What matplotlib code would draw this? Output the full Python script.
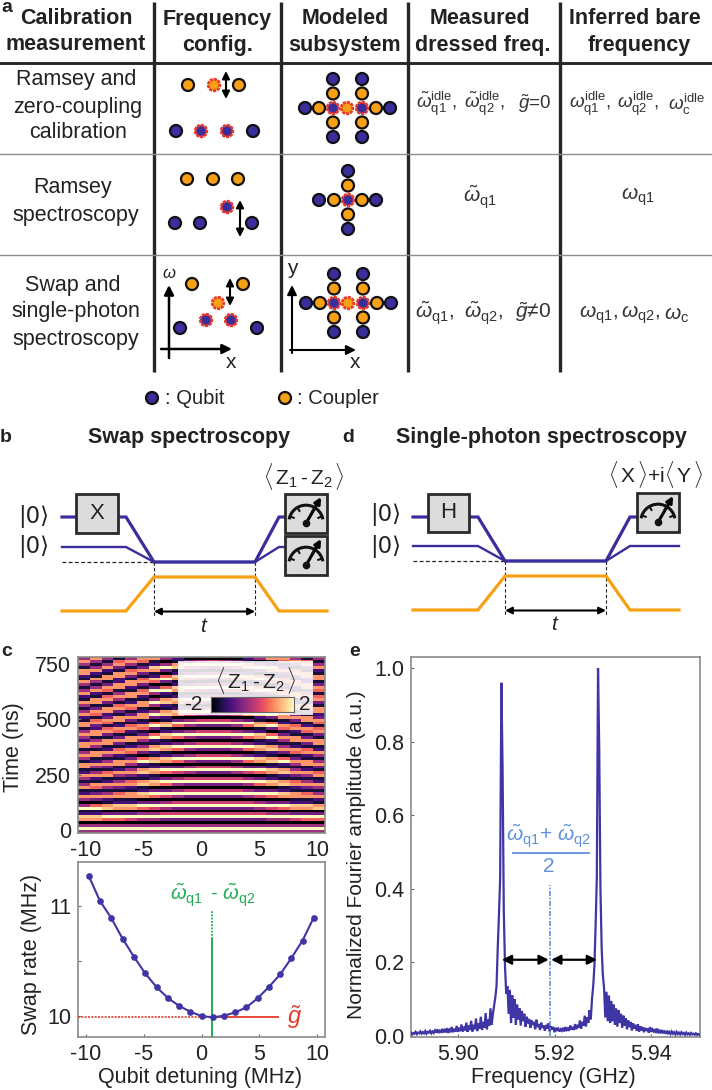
import numpy as np
import matplotlib
matplotlib.use("Agg")
import matplotlib.pyplot as plt
from matplotlib.patches import Circle, Rectangle, Arc

plt.rcParams['font.family'] = ['Liberation Sans', 'DejaVu Sans']
plt.rcParams['mathtext.fontset'] = 'custom'
plt.rcParams['mathtext.rm'] = 'Liberation Sans'
plt.rcParams['mathtext.it'] = 'Liberation Sans:italic'
plt.rcParams['mathtext.bf'] = 'Liberation Sans:bold'
plt.rcParams['axes.unicode_minus'] = False

W, H = 712, 1090
QUBIT, COUPLER, RED = '#3a2d9c', '#f5a015', '#e63a2a'
DARK = '#222222'
TRACE = '#3f35a5'
SKY = '#5f92dc'
GREEN = '#1fae55'
FRAME = '#8a8a8a'

# ---------- data ----------
# Panel c, top: colour level (0 = black ... 9 = cream) per detuning column, time rising.
# Coarse estimates of the stripe pattern by eye, not an exact cell-by-cell copy.
heat_detuning = list(range(-10, 11))
heat_levels = [
    "4940 7821 9404 7217 4147 2177 1474 1772 4741 7712 7414 7127 4147 1277 1474",
    "4940 7821 9603 7316 7127 4147 2177 1474 1772 3761 6731 7712 7414 7127 4147",
    "4940 6930 8712 7414 7217 6137 4147 2177 1376 1673 2771 3761 6731 7712 7414",
    "4940 6930 7821 7613 7414 7217 7127 6137 3167 2177 1376 1474 1772 2771 3761",
    "4940 5930 7821 7712 7613 7414 7316 7217 7127 6137 3167 2177 1277 1376 1474",
    "4940 4940 6930 7821 8712 8712 9603 7414 7316 7217 7217 7127 6137 6137 3167",
    "4940 4940 5930 6930 7821 7821 8712 8712 9603 9603 9404 9404 9306 8217 8217",
    "4940 3950 4940 5930 6930 6930 7821 7821 7821 8712 8712 8712 9603 9603 9404",
    "4940 3950 3950 4940 4940 5930 6930 6930 6930 6930 7821 7821 7821 7821 8712",
    "4940 3950 3950 3950 3950 4940 4940 4940 4940 4940 5930 5930 5930 5930 5930",
    "4940 3950 3950 3950 3950 3950 3950 3950 3950 3950 4940 4940 4940 4940 4940",
    "4940 3950 3950 3950 3950 3950 3950 3950 3950 3950 3950 3950 3950 3950 3950",
    "4940 3950 3950 3950 3950 3950 3950 3950 3950 3950 4940 4940 4940 4940 4940",
    "4940 3950 3950 3950 3950 4940 4940 4940 4940 4940 5930 5930 5930 5930 5930",
    "4940 3950 3950 4940 4940 5930 6930 6930 6930 6930 7821 7821 7821 7821 8712",
    "4940 3950 4940 5930 6930 6930 7821 7821 7821 8712 8712 8712 9603 9603 9404",
    "4940 4940 5930 6930 7821 7821 8712 8712 9603 9603 9404 9404 9306 8217 8217",
    "4940 4940 6930 7821 8712 8712 9603 7414 7316 7217 7217 7127 6137 6137 3167",
    "4940 5930 7821 7712 7613 7414 7316 7217 7127 6137 3167 2177 1277 1376 1474",
    "4940 6930 7821 7613 7414 7217 7127 6137 3167 2177 1376 1474 1772 2771 3761",
    "4940 6930 8712 7414 7217 6137 4147 2177 1376 1673 2771 3761 6731 7712 7414",
]

# Panel c, bottom
swap_detuning = [-9.74, -8.76, -7.79, -6.81, -5.83, -4.86, -3.88, -2.90, -1.95, -0.97, 0.0,
                 0.98, 1.95, 2.90, 3.88, 4.86, 5.83, 6.79, 7.76, 8.71, 9.68]
swap_rate = [11.277, 11.046, 10.891, 10.702, 10.538, 10.386, 10.261, 10.161, 10.091, 10.036, 9.997,
             9.985, 10.0, 10.03, 10.076, 10.161, 10.264, 10.377, 10.526, 10.684, 10.894]
g_value = 9.985
detuning_center = 0.92

# Panel e: one value per 0.25 MHz from 5.890 GHz
spectrum_start, spectrum_step = 5.89, 0.00025
spectrum_left = [.005, .009, .004, .008, .006, .011, .005, .009, .007, .012, .006, .010, .007, .013, .006, .011, .009, .014, .007, .012,
                 .008, .015, .009, .018, .008, .014, .011, .019, .009, .016, .012, .021, .008, .017, .013, .024, .010, .019, .012, .027,
                 .011, .022, .013, .031, .012, .025, .015, .036, .011, .028, .016, .041, .012, .030, .018, .047, .013, .034, .020, .052,
                 .016, .038, .022, .062, .018, .044, .028, .075, .030, .060, .082, .105]
spectrum_peak1 = [.135, .24, .33, .43, .96, .73, .34, .19, .115]
spectrum_mid = [.135, .06, .125, .035, .11, .05, .10, .03, .085, .045,
                .075, .028, .068, .04, .06, .025, .052, .034, .046, .022,
                .042, .03, .038, .018, .044, .024, .032, .016, .036, .022,
                .028, .014, .03, .02, .034, .012, .026, .018, .024, .01,
                .022, .016, .02, .012, .018, .014, .022, .012, .024, .016,
                .02, .014, .028, .017, .024, .016, .032, .018, .03, .022,
                .042, .02, .038, .028, .055, .026, .05, .036, .07, .045, .10]
spectrum_peak2 = [.135, .19, .30, .43, 1.0, .78, .40, .24, .165]
spectrum_right = [.13, .05, .12, .04, .11, .035, .095, .04, .085, .03,
                  .075, .025, .07, .035, .06, .022, .055, .028, .048, .018,
                  .042, .024, .038, .015, .034, .02, .03, .014, .032, .012,
                  .026, .015, .024, .01, .022, .014, .02, .009, .024, .011,
                  .018, .012, .016, .008, .02, .01, .014, .007, .016, .009,
                  .012, .006, .014, .007, .011, .005, .012, .006, .01, .004,
                  .011, .005, .009, .004, .01, .005, .008, .003, .009, .004,
                  .007, .003, .008, .004, .006, .003, .007, .003, .005, .003]
center_frequency = 5.919

# Table text
header_rows = [("Calibration", 76, 19), ("measurement", 76, 45), ("Frequency", 217, 19), ("config.", 218, 45),
               ("Modeled", 345, 19), ("subsystem", 345, 45), ("Measured", 480, 19), ("dressed freq.", 483, 45),
               ("Inferred bare", 635, 19), ("frequency", 639, 45)]
body_rows = [("Ramsey and", 76, 80), ("zero-coupling", 78, 107), ("calibration", 78, 132),
             ("Ramsey", 73, 188), ("spectroscopy", 76, 215),
             ("Swap and", 73, 285), ("single-photon", 76, 312), ("spectroscopy", 76, 339)]
W1 = r"\tilde{\omega}"
math_row1 = [(rf"${W1}_{{\mathrm{{q1}}}}^{{\mathrm{{idle}}}}$,", 437, 104), (rf"${W1}_{{\mathrm{{q2}}}}^{{\mathrm{{idle}}}}$,", 485, 104),
             (r"$\tilde{g}$=0", 535, 104),
             (r"$\omega_{\mathrm{q1}}^{\mathrm{idle}}$,", 590, 104), (r"$\omega_{\mathrm{q2}}^{\mathrm{idle}}$,", 638, 104),
             (r"$\omega_{\mathrm{c}}^{\mathrm{idle}}$", 687, 104)]
math_rows = [(rf"${W1}_{{\mathrm{{q1}}}}$", 480, 197), (r"$\omega_{\mathrm{q1}}$", 638, 197),
             (rf"${W1}_{{\mathrm{{q1}}}}$,", 435, 313), (rf"${W1}_{{\mathrm{{q2}}}}$,", 484, 313), (r"$\tilde{g}$≠0", 533, 312),
             (r"$\omega_{\mathrm{q1}}$,", 598, 315), (r"$\omega_{\mathrm{q2}}$,", 640, 315), (r"$\omega_{\mathrm{c}}$", 677, 315)]

# Frequency-configuration dots: (x, y, kind, highlighted)
config_dots = [(188, 85, 'c', 0), (214, 85, 'c', 1), (239, 85, 'c', 0),
               (176, 131, 'q', 0), (201, 131, 'q', 1), (227, 131, 'q', 1), (253, 131, 'q', 0),
               (187, 179, 'c', 0), (213, 179, 'c', 0), (238, 179, 'c', 0),
               (175, 223, 'q', 0), (200, 223, 'q', 0), (227, 207, 'q', 1), (252, 223, 'q', 0),
               (192, 284, 'c', 0), (218, 303, 'c', 1), (243, 284, 'c', 0),
               (180, 328, 'q', 0), (206, 320, 'q', 1), (231, 320, 'q', 1), (257, 328, 'q', 0)]

# ---------- figure ----------
fig = plt.figure(figsize=(W / 100, H / 100), dpi=100)
bg = fig.add_axes([0, 0, 1, 1])
bg.set_xlim(0, W)
bg.set_ylim(H, 0)
bg.axis('off')


def px_axes(x0, y0, x1, y1):
    ax = fig.add_axes([x0 / W, 1 - y1 / H, (x1 - x0) / W, (y1 - y0) / H])
    for s in ax.spines.values():
        s.set_color(FRAME)
        s.set_linewidth(1.2)
    ax.tick_params(direction='in', length=2.5, width=0.8, color='#666666', labelsize=15.5, labelcolor=DARK, pad=5)
    return ax


def txt(s, x, y, size=15, weight='normal', color=DARK, ha='center', va='center', **kw):
    bg.text(x, y, s, fontsize=size, fontweight=weight, color=color, ha=ha, va=va, **kw)


def dot(x, y, kind, hi=False):
    fill = QUBIT if kind == 'q' else COUPLER
    if hi:
        bg.add_patch(Circle((x, y), 5.8, fc=fill, ec=RED, lw=2.0, ls=(0, (1.1, 0.35)), zorder=4))
    else:
        bg.add_patch(Circle((x, y), 6.0, fc=fill, ec='#111111', lw=1.6, zorder=4))


def arrow(x0, y0, x1, y1, style='<|-|>', lw=1.5, ms=11, ax=None):
    (ax or bg).annotate('', xy=(x1, y1), xytext=(x0, y0),
                        arrowprops=dict(arrowstyle=style, color='black', lw=lw, mutation_scale=ms,
                                        shrinkA=0, shrinkB=0), zorder=6)


# Table rules
for x in (154, 281, 408, 560):
    bg.plot([x, x], [2, 372], color='#262626', lw=2.4, solid_capstyle='butt')
bg.plot([0, W], [63, 63], color='#262626', lw=2.1)
for y in (154, 255):
    bg.plot([0, W], [y, y], color='#8c8c8c', lw=1.0)

txt('a', 7, 7, 14, 'bold')
for s, x, y in header_rows:
    txt(s, x, y, 15.5, 'bold')
for s, x, y in body_rows:
    txt(s, x, y, 15.5)
for s, x, y in math_row1:
    txt(s, x, y, 13.5, color='#333333')
for s, x, y in math_rows:
    txt(s, x, y, 15, color='#333333')

for x, y, k, h in config_dots:
    dot(x, y, k, bool(h))
arrow(226, 71, 226, 99)
arrow(240, 200, 240, 237)
arrow(230, 278, 230, 306)


def cross(cx, cy):
    for dy, k in ((-29, 'q'), (-14.5, 'c'), (14.5, 'c'), (29, 'q')):
        dot(cx, cy + dy, k)
    dot(cx, cy, 'q', True)


for cy in (108, 303):
    off = 0 if cy == 108 else 1
    cross(333 + off, cy)
    cross(362 + off, cy)
    dot(347 + off, cy, 'c', True)
    dot(319 + off, cy, 'c')
    dot(305 + off, cy, 'q')
    dot(376 + off, cy, 'c')
    dot(390 + off, cy, 'q')
cross(348, 200)
dot(334, 200, 'c')
dot(319, 200, 'q')
dot(362, 200, 'c')
dot(376, 200, 'q')

# Small coordinate axes
arrow(169, 358, 169, 285, '-|>', 1.8, 14)
arrow(161, 349, 232, 349, '-|>', 1.8, 14)
txt(r'$\omega$', 169, 273, 12)
txt('x', 231, 362, 15)
arrow(292, 353, 292, 285, '-|>', 1.5, 14)
arrow(290, 350, 356, 350, '-|>', 1.5, 14)
txt('y', 292, 268, 15)
txt('x', 355, 362, 15)

# Legend of panel a
dot(152, 398, 'q')
txt(': Qubit', 165, 398, 14.5, ha='left')
dot(285, 398, 'c')
txt(': Coupler', 297, 398, 14.5, ha='left')


# ---------- pulse schematics ----------
def gate_box(x0, y0, x1, y1, label=None):
    bg.add_patch(Rectangle((x0, y0), x1 - x0, y1 - y0, fc='#dcdcdc', ec='#2a2a2a', lw=2.0, zorder=5))
    if label:
        txt(label, (x0 + x1) / 2, (y0 + y1) / 2, 16, zorder=6)


def meter(x0, y0, x1, y1):
    gate_box(x0, y0, x1, y1)
    cx, cy = (x0 + x1) / 2, y0 + 0.70 * (y1 - y0)
    r = 0.36 * (x1 - x0)
    bg.add_patch(Arc((cx, cy + 1), 2 * r + 4, 2 * r + 4, theta1=190, theta2=350, color='#111111', lw=2.2, zorder=6))
    bg.plot([cx], [cy + 2], 'o', color='#111111', ms=4.5, zorder=7)
    arrow(cx, cy + 2, cx + 0.36 * (x1 - x0), y0 + 3, '-|>', 2.2, 9)
    for a in (200, 240, 300, 340):
        t = np.deg2rad(a)
        bg.plot([cx + (r + 2) * np.cos(t), cx + (r - 2) * np.cos(t)],
                [cy + 1 + (r + 2) * np.sin(t), cy + 1 + (r - 2) * np.sin(t)],
                color='#111111', lw=1.5, zorder=6)


def pulses(x, y_q1, y_q2, y_d, y_o_low, y_o_high, y_q1_end, q2_end, o_end):
    xa, xb, xc, xd, xe = x
    bg.plot([xa, xb, xc, xd, xe, xe + 6], [y_q1, y_q1, y_d, y_d, y_q1_end, y_q1_end], color=QUBIT, lw=2.3, zorder=3,
            solid_joinstyle='miter')
    bg.plot([xa, xb, xc, xd, xe, q2_end], [y_q2, y_q2, y_d, y_d, y_q2, y_q2], color=QUBIT, lw=1.7, zorder=3,
            solid_joinstyle='miter')
    bg.plot([xa, xc], [y_d, y_d], color='#222222', lw=0.9, ls=(0, (3, 2)), zorder=2)
    bg.plot([xa, xb, xc, xd, xe, o_end], [y_o_low, y_o_low, y_o_high, y_o_high, y_o_low, y_o_low], color=COUPLER, lw=2.3,
            zorder=3, solid_joinstyle='miter')
    for xv in (xc, xd):
        bg.plot([xv, xv], [y_d, y_o_low + 5], color='#222222', lw=0.8, ls=(0, (3, 2)), zorder=2)
    arrow(xc, y_o_low + 0.5, xd, y_o_low + 0.5, '<|-|>', 1.5, 10)
    txt('$t$', (xc + xd) / 2, y_o_low + 15, 15)


txt('b', 6, 437, 14, 'bold')
txt('Swap spectroscopy', 189, 438, 15.5, 'bold')
txt('|0⟩', 34, 517, 16.5, family=['DejaVu Sans'])
txt('|0⟩', 34, 547, 16.5, family=['DejaVu Sans'])
pulses((62, 126, 154, 255, 279), 517, 547, 562, 611, 577, 517, 285, 327)
gate_box(76, 494, 118, 533, 'X')
meter(285, 494, 327, 533)
meter(285, 536, 327, 575)
txt(r'$\langle\,\mathrm{Z}_1\,$-$\,\mathrm{Z}_2\,\rangle$', 304, 476, 15)

txt('d', 348, 437, 14, 'bold')
txt('Single-photon spectroscopy', 541, 438, 15.5, 'bold')
txt('|0⟩', 386, 515, 16.5, family=['DejaVu Sans'])
txt('|0⟩', 386, 546, 16.5, family=['DejaVu Sans'])
pulses((413, 478, 505, 606, 630), 517, 546, 561, 610, 576, 517, 679, 679)
gate_box(428, 494, 469, 532, 'H')
meter(637, 493, 679, 532)
txt(r'$\langle\,\mathrm{X}\,\rangle$+i$\langle\,\mathrm{Y}\,\rangle$', 656, 475, 15)

# ---------- panel c, heatmap ----------
XLIM = (-10.65, 10.65)
txt('c', 7, 651, 14, 'bold')
ax_heat = px_axes(78, 657, 325, 833)
levels = np.array([[int(ch) for ch in col.replace(' ', '')] for col in heat_levels]).T
values = -2 + 4 * levels / 9
x_edges = np.linspace(XLIM[0], XLIM[1], len(heat_detuning) + 1)
time_lim = (-13.6, 781.6)
t_edges = np.linspace(time_lim[0], time_lim[1], levels.shape[0] + 1)
ax_heat.pcolormesh(x_edges, t_edges, values, cmap='magma', vmin=-2, vmax=2)
ax_heat.set_xlim(*XLIM)
ax_heat.set_ylim(*time_lim)
ax_heat.set_xticks([-10, -5, 0, 5, 10])
ax_heat.set_yticks([0, 250, 500, 750])

# Colour key inside the heatmap
bg_key = fig.add_axes([178 / W, 1 - 715 / H, 135 / W, 54 / H])
bg_key.set_xticks([])
bg_key.set_yticks([])
bg_key.patch.set_facecolor('white')
bg_key.patch.set_alpha(0.86)
for s in bg_key.spines.values():
    s.set_visible(False)
bg_key.set_xlim(178, 313)
bg_key.set_ylim(715, 661)
bg_key.text(256, 680, r'$\langle\,\mathrm{Z}_1\,$-$\,\mathrm{Z}_2\,\rangle$', fontsize=15, color=DARK, ha='center', va='center')
bg_key.text(193, 705, '-2', fontsize=15, color=DARK, ha='center', va='center')
bg_key.text(305, 705, '2', fontsize=15, color=DARK, ha='center', va='center')
ax_cb = fig.add_axes([211 / W, 1 - 712 / H, 83 / W, 15 / H])
ax_cb.imshow(np.linspace(0, 1, 256)[None, :], aspect='auto', cmap='magma')
ax_cb.set_xticks([])
ax_cb.set_yticks([])
for s in ax_cb.spines.values():
    s.set_color('#666666')

# ---------- panel c, swap rate ----------
ax_swap = px_axes(78, 862, 325, 1037)
ax_swap.plot(swap_detuning, swap_rate, '-o', color=TRACE, lw=1.5, ms=3.8, zorder=4)
ax_swap.plot([detuning_center, detuning_center], [9.806, 10.70], color=GREEN, lw=1.4, zorder=3)
ax_swap.plot([detuning_center, detuning_center], [10.70, 10.96], color=GREEN, lw=1.3, ls=(0, (1, 0.8)), zorder=3)
ax_swap.plot([XLIM[0], detuning_center], [g_value, g_value], color=RED, lw=1.2, ls=(0, (1.2, 0.8)), zorder=3)
ax_swap.plot([detuning_center, 6.6], [g_value, g_value], color=RED, lw=1.3, zorder=3)
ax_swap.text(8.0, 9.985, r'$\tilde{g}$', color=RED, fontsize=17, ha='center', va='center')
ax_swap.text(1.0, 11.10, rf'${W1}_{{\mathrm{{q1}}}}\,$ - ${W1}_{{\mathrm{{q2}}}}$', color=GREEN, fontsize=14.5, ha='center', va='center')
ax_swap.set_xlim(*XLIM)
ax_swap.set_ylim(9.806, 11.40)
ax_swap.set_xticks([-10, -5, 0, 5, 10])
ax_swap.set_yticks([10, 11])
ax_swap.set_yticks([10.5], minor=True)
ax_swap.set_yticklabels(['10', '11'])
ax_swap.tick_params(which='minor', direction='in', length=2, width=0.8, color='#666666')
txt('Qubit detuning (MHz)', 200, 1077, 15.5)
txt('Swap rate (MHz)', 32, 954, 15.5, rotation=90)
txt('Time (ns)', 14, 747, 15.5, rotation=90)

# ---------- panel e ----------
txt('e', 355, 651, 14, 'bold')
ax_e = px_axes(411, 657, 700, 1037)
amp = spectrum_left + spectrum_peak1 + spectrum_mid + spectrum_peak2 + spectrum_right
freq = [spectrum_start + i * spectrum_step for i in range(len(amp))]
ax_e.plot(freq, amp, color=TRACE, lw=1.6, solid_joinstyle='miter', zorder=3)
ax_e.plot([center_frequency, center_frequency], [0, 0.41], color=SKY, lw=1.2, ls=(0, (3, 1, 1, 1)), zorder=4)
arrow(5.9091, 0.207, 5.9188, 0.207, '<|-|>', 1.6, 14, ax=ax_e)
arrow(5.9193, 0.207, 5.9288, 0.207, '<|-|>', 1.6, 14, ax=ax_e)
ax_e.set_xlim(5.8903, 5.9501)
ax_e.set_ylim(-0.003, 1.03)
ax_e.set_xticks([5.90, 5.92, 5.94])
ax_e.set_xticklabels(['5.90', '5.92', '5.94'])
ax_e.set_yticks([0, 0.2, 0.4, 0.6, 0.8, 1.0])
ax_e.set_yticklabels(['0.0', '0.2', '0.4', '0.6', '0.8', '1.0'])
bg_top = fig.add_axes([0, 0, 1, 1])
bg_top.set_xlim(0, W)
bg_top.set_ylim(H, 0)
bg_top.axis('off')
bg_top.text(549, 836, rf'${W1}_{{\mathrm{{q1}}}}$+ ${W1}_{{\mathrm{{q2}}}}$', color=SKY, fontsize=15, ha='center', va='center')
bg_top.plot([513, 589], [853, 853], color=SKY, lw=1.3)
bg_top.text(549, 867, '2', color=SKY, fontsize=15, ha='center', va='center')
txt('Frequency (GHz)', 553, 1078, 15.5)
txt('Normalized Fourier amplitude (a.u.)', 357, 855, 15, rotation=90)

fig.savefig('out.png', dpi=100)
